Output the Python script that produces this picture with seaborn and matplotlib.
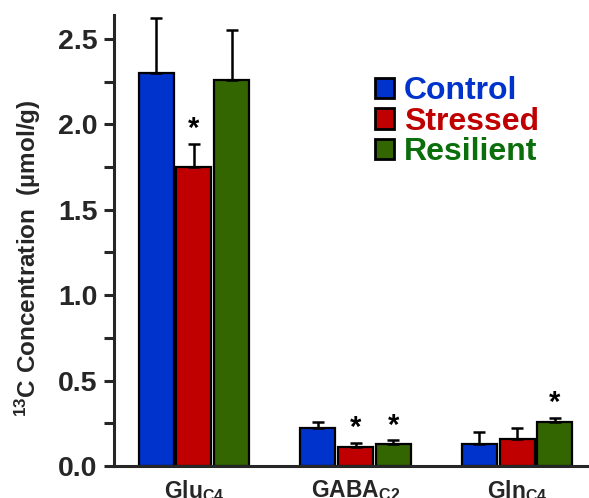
import numpy as np
import pandas as pd
import matplotlib
matplotlib.use('Agg')
import matplotlib.pyplot as plt
import seaborn as sns
from matplotlib.patches import Patch
from matplotlib.ticker import MultipleLocator

# values (umol/g)
metabolites = ['Glu$_{\\mathbf{C4}}$', 'GABA$_{\\mathbf{C2}}$', 'Gln$_{\\mathbf{C4}}$']
groups = ['Control', 'Stressed', 'Resilient']
control_mean = [2.30, 0.22, 0.13]
stressed_mean = [1.75, 0.11, 0.16]
resilient_mean = [2.26, 0.13, 0.26]
control_err = [0.32, 0.04, 0.07]
stressed_err = [0.135, 0.025, 0.065]
resilient_err = [0.29, 0.02, 0.02]
# asterisk: (metabolite index, group index)
significant = [(0, 1), (1, 1), (1, 2), (2, 2)]

bar_colors = ['#0033CC', '#C00000', '#336600']
text_colors = ['#0033CC', '#C00000', '#0A6E0A']

sns.set_style('ticks')
plt.rcParams['font.family'] = ['Liberation Sans', 'DejaVu Sans']
plt.rcParams['font.weight'] = 'bold'
plt.rcParams['mathtext.fontset'] = 'custom'
plt.rcParams['mathtext.rm'] = 'Liberation Sans:bold'
plt.rcParams['mathtext.bf'] = 'Liberation Sans:bold'
plt.rcParams['mathtext.default'] = 'bf'

means = [control_mean, stressed_mean, resilient_mean]
errs = [control_err, stressed_err, resilient_err]
df = pd.DataFrame({
    'metabolite': np.repeat([metabolites], 3, axis=0).ravel(),
    'group': np.repeat(groups, 3),
    'value': np.concatenate(means),
    'err': np.concatenate(errs),
})

fig = plt.figure(figsize=(5.89, 4.98), dpi=100)
ax = fig.add_axes([0.1935, 0.0643, 0.849, 0.9056])

sns.barplot(data=df, x='metabolite', y='value', hue='group', hue_order=groups,
            order=metabolites, palette=bar_colors, saturation=1, width=0.7,
            gap=0.07, errorbar=None, edgecolor='black', linewidth=1.6,
            legend=False, ax=ax)

# error bars (upper only) and asterisks on top of seaborn's bars
bar_conts = list(ax.containers)
for gi, cont in enumerate(bar_conts):
    for mi, bar in enumerate(cont.patches):
        xc = bar.get_x() + bar.get_width() / 2
        h = bar.get_height()
        e = errs[gi][mi]
        ax.errorbar(xc, h, yerr=[[0], [e]], fmt='none', ecolor='black',
                    elinewidth=1.8, capsize=4, capthick=1.8, zorder=1)
        if (mi, gi) in significant:
            ax.text(xc, h + e + 0.005, '*', ha='center', va='bottom',
                    fontsize=21, fontweight='bold', color='black')

ax.set_xlim(-0.495, 2.6)
ax.set_ylim(0, 2.64)
ax.yaxis.set_major_locator(MultipleLocator(0.5))
ax.yaxis.set_minor_locator(MultipleLocator(0.25))
ax.yaxis.set_major_formatter(matplotlib.ticker.FormatStrFormatter('%.1f'))
sns.despine(ax=ax)
for s in ['left', 'bottom']:
    ax.spines[s].set_linewidth(2.2)
ax.tick_params(axis='y', which='both', direction='out', length=7, width=2.2,
               labelsize=20.5, pad=5)
ax.tick_params(axis='x', length=0, labelsize=16.5, pad=9)
for lab in ax.get_yticklabels() + ax.get_xticklabels():
    lab.set_fontweight('bold')

ax.set_xlabel('')
ax.set_ylabel('$^{13}$C Concentration  (\u00b5mol/g)', fontsize=17.5,
              fontweight='bold')
ax.yaxis.set_label_coords(-0.142, 0.46)

handles = [Patch(facecolor=c, edgecolor='black', linewidth=2) for c in bar_colors]
ax.legend(handles, groups, loc='upper left', bbox_to_anchor=(0.615, 0.873),
          bbox_transform=fig.transFigure, frameon=False, labelcolor=text_colors,
          prop={'weight': 'bold', 'size': 23}, handlelength=0.6,
          handleheight=0.6, handletextpad=0.3, labelspacing=0.02,
          borderaxespad=0)

fig.savefig('out.png', dpi=100)
